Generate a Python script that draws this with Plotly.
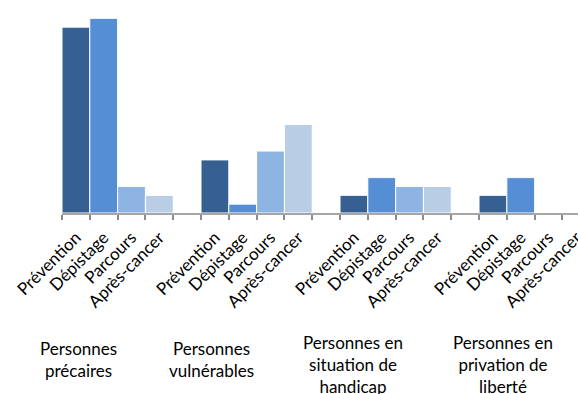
import plotly.graph_objects as go

groups = ["Personnes<br>précaires", "Personnes<br>vulnérables",
          "Personnes en<br>situation de<br>handicap", "Personnes en<br>privation de<br>liberté"]
categories = ["Prévention", "Dépistage", "Parcours", "Après-cancer"]
prevention = [21, 6, 2, 2]
depistage = [22, 1, 4, 4]
parcours = [3, 7, 3, 0]
apres_cancer = [2, 10, 3, 0]
series = [prevention, depistage, parcours, apres_cancer]
colors = ["#366092", "#558ED5", "#8EB4E3", "#B9CDE5"]

# build category slots: 4 bars + 1 gap per group
slot_ids, slot_text = [], []
for gi in range(len(groups)):
    for ci, c in enumerate(categories):
        slot_ids.append(f"g{gi}c{ci}")
        slot_text.append(c)
    if gi < len(groups) - 1:
        slot_ids.append(f"gap{gi}")
        slot_text.append("")

fig = go.Figure()
for ci, c in enumerate(categories):
    xs = [f"g{gi}c{ci}" for gi in range(len(groups))]
    ys = [series[ci][gi] for gi in range(len(groups))]
    fig.add_trace(go.Bar(x=xs, y=ys, name=c, width=1,
                         marker=dict(color=colors[ci], line=dict(width=1, color="white")),
                         showlegend=False))

# label centres in pixels (x, y)
ann_pos = [(78, 359), (211, 359), (353, 364), (503, 364)]
plot_l, plot_w, plot_h = 62, 516, 213
for g, (px, py) in zip(groups, ann_pos):
    fig.add_annotation(text=g, x=(px - plot_l) / plot_w, y=(plot_h - py) / plot_h,
                       xref="paper", yref="paper",
                       showarrow=False, xanchor="center", yanchor="middle",
                       font=dict(size=17, color="#000000"))

fig.update_layout(
    width=578, height=394,
    margin=dict(l=62, r=0, t=0, b=181, autoexpand=False),
    paper_bgcolor="white", plot_bgcolor="white",
    barmode="overlay",
    font=dict(family="Lato, 'Open Sans', sans-serif", size=17, color="#000000"),
    xaxis=dict(type="category", categoryorder="array", categoryarray=slot_ids,
               tickvals=slot_ids, ticktext=slot_text, tickangle=-45,
               tickson="boundaries", ticks="outside", ticklen=5, tickcolor="#8c8c8c",
               tickwidth=2, showline=True, linecolor="#a6a6a6", linewidth=2,
               showgrid=False, range=[-0.5, 18.06], tickfont=dict(size=17),
               ticklabelstandoff=6, automargin=False),
    yaxis=dict(visible=False, range=[0, 24.07], automargin=False),
)
fig.write_html("out.html")
